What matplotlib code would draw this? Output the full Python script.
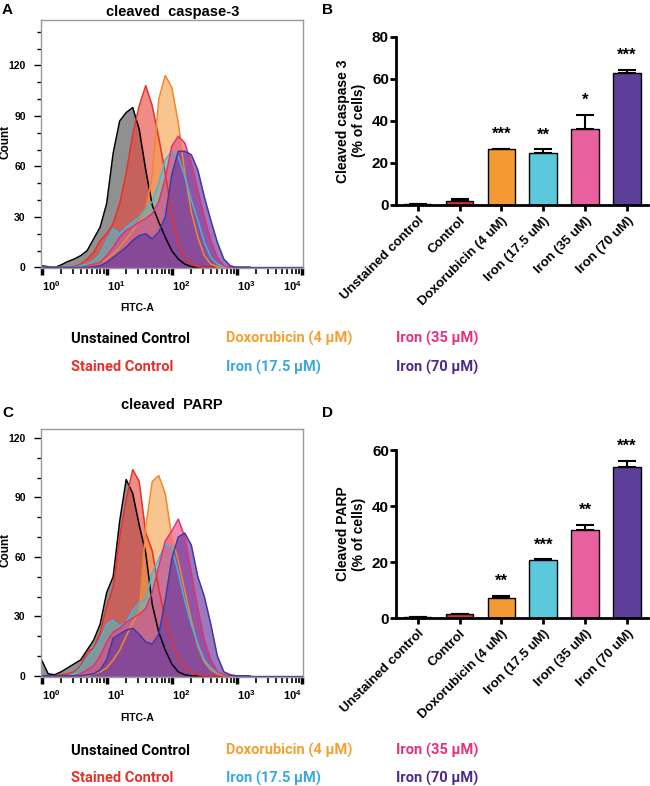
import numpy as np
import matplotlib
matplotlib.use('Agg')
import matplotlib.pyplot as plt
from matplotlib.ticker import MultipleLocator, FixedLocator, LogLocator, NullFormatter

plt.rcParams['font.family'] = ['Liberation Sans', 'DejaVu Sans']
plt.rcParams['mathtext.fontset'] = 'custom'
plt.rcParams['mathtext.bf'] = 'Liberation Sans:bold'
plt.rcParams['mathtext.rm'] = 'Liberation Sans:bold'

# log10(FITC-A) positions of the histogram readings
decades = [0.0, 0.1, 0.2, 0.3, 0.4, 0.5, 0.6, 0.7, 0.8, 0.9, 1.0, 1.1, 1.2, 1.3, 1.4, 1.5,
           1.6, 1.7, 1.8, 1.9, 2.0, 2.1, 2.2, 2.3, 2.4, 2.5, 2.6, 2.7, 2.8, 2.9, 3.0, 3.1, 3.2]

# panel A : cleaved caspase-3 histograms (counts)
casp_unstained = [1, 0.5, 0, 1.5, 3.5, 5, 7, 10, 17, 24, 38, 68, 87, 92, 95, 82,
                  58, 37, 27, 18, 10, 5, 2, 0.5, 0, 0, 0, 0, 0, 0, 0, 0, 0]
casp_stained = [0, 0, 0, 0, 0, 0.5, 2, 5, 9, 16, 20, 26, 38, 56, 79, 96,
                108, 96, 77, 56, 32, 14, 6, 2, 0.5, 0, 0, 0, 0, 0, 0, 0, 0]
casp_doxo = [0, 0, 0, 0, 0, 0, 0, 1, 2, 3, 5, 8, 12, 17, 22, 28,
             34, 55, 100, 114, 107, 86, 56, 33, 18, 7, 2, 0.5, 0, 0, 0, 0, 0]
casp_fe175 = [0, 0, 0, 0, 0, 0, 1, 2, 4, 8, 16, 23, 20, 24, 27, 30,
              35, 39, 50, 64, 69, 66, 54, 40, 28, 15, 6, 2, 0.5, 0, 0, 0, 0]
casp_fe35 = [0, 0, 0, 0, 0, 0, 0, 1, 2, 3, 7, 12, 18, 22, 24, 27,
             29, 32, 39, 53, 72, 78, 74, 62, 46, 30, 16, 6, 1, 0, 0, 0, 0]
casp_fe70 = [0, 0, 0, 0, 0, 0, 0, 0, 0.5, 1, 3, 6, 9, 12, 16, 19,
             20, 17, 21, 30, 55, 69, 69, 67, 58, 42, 28, 15, 5, 1, 0, 0, 0]

# panel C : cleaved PARP histograms (counts)
parp_unstained = [8, 1, 0.5, 2, 4, 6, 8, 13, 18, 26, 42, 50, 78, 99, 92, 76,
                  62, 36, 22, 13, 6, 2, 0.5, 0, 0, 0, 0, 0, 0, 0, 0, 0, 0]
parp_stained = [0, 0, 0, 0.5, 1, 2, 5, 12, 14, 22, 35, 45, 70, 89, 104, 98,
                72, 63, 44, 28, 18, 9, 4, 2, 0.5, 0, 0, 0, 0, 0, 0, 0, 0]
parp_doxo = [0, 0, 0, 0, 0, 0, 0, 0, 1, 2, 4, 8, 13, 20, 27, 32,
             75, 98, 101, 92, 70, 58, 43, 28, 15, 7, 3, 1, 0, 0, 0, 0, 0]
parp_fe175 = [0, 0, 0, 0, 0, 1, 4, 9, 13, 18, 26, 28, 25, 27, 33, 37,
              38, 52, 59, 66, 65, 52, 38, 26, 16, 8, 4, 1.5, 0.5, 0, 0, 0, 0]
parp_fe35 = [0, 0, 0, 0, 0, 0, 1, 3, 5, 10, 17, 22, 24, 27, 29, 31,
             34, 42, 55, 68, 73, 79, 70, 52, 34, 18, 8, 2, 0.5, 0, 0, 0, 0]
parp_fe70 = [0, 0, 0, 0, 0, 0, 0, 0.5, 1, 3, 8, 19, 21, 23, 24, 21,
             17, 16, 21, 38, 59, 70, 72, 66, 50, 40, 26, 10, 2, 0.5, 0, 0, 0]

# bar charts
groups = ['Unstained control', 'Control', 'Doxorubicin (4 uM)',
          'Iron (17.5 uM)', 'Iron (35 uM)', 'Iron (70 uM)']
casp_pct = [0.3, 1.7, 26.5, 24.6, 36.0, 62.9]
casp_err = [0.1, 1.0, 0.2, 1.9, 6.8, 1.3]
casp_sig = ['', '', '***', '**', '*', '***']
parp_pct = [0.3, 1.3, 7.3, 20.6, 31.4, 54.0]
parp_err = [0.1, 0.25, 0.6, 0.4, 1.8, 2.1]
parp_sig = ['', '', '**', '***', '**', '***']

legend_names = ['Unstained Control', 'Stained Control', 'Doxorubicin (4 μM)',
                'Iron (17.5 μM)', 'Iron (35 μM)', 'Iron (70 μM)']

# styles
hist_fill = ['#8a8a8a', '#e8453c', '#f5a04a', '#4ec4c8', '#e6428a', '#6a3a9e']
hist_alpha = [0.95, 0.62, 0.62, 0.55, 0.62, 0.68]
hist_edge = ['#000000', '#e8302a', '#f08a2a', '#3fb8e0', '#e0307a', '#3b3aa5']
bar_colors = ['#222222', '#d9342b', '#f39a35', '#5bc8dc', '#e9609e', '#5b3f98']
legend_colors = ['#000000', '#e8302a', '#f5a030', '#3aa8e0', '#e8307f', '#4b2a8a']

fig = plt.figure(figsize=(6.5, 7.86), dpi=100)


def draw_hist(ax, series, ytop):
    x = 10 ** np.array(decades)
    for s, fc, a, ec in zip(series, hist_fill, hist_alpha, hist_edge):
        ax.fill_between(x, s, 0, color=fc, alpha=a, lw=0)
        ax.plot(x, s, color=ec, lw=1.1)
    ax.axhline(0, color='#4a3aa0', lw=1.0, zorder=0)
    ax.set_xscale('log')
    ax.set_xlim(10 ** -0.01, 10 ** 4.015)
    ax.set_ylim(-0.6, ytop)
    ax.xaxis.set_major_locator(FixedLocator([1, 10, 100, 1000, 10000]))
    ax.xaxis.set_minor_locator(LogLocator(base=10, subs=np.arange(2, 10)))
    ax.xaxis.set_minor_formatter(NullFormatter())
    ax.set_xticklabels([r'$\mathbf{10^{%d}}$' % k for k in range(5)])
    labels = ax.get_xticklabels()
    for lab in labels:
        lab.set_ha('left')
    labels[-1].set_ha('right')
    ax.yaxis.set_major_locator(MultipleLocator(30))
    ax.yaxis.set_minor_locator(MultipleLocator(10))
    ax.tick_params(axis='x', which='major', length=5, width=2.5, labelsize=8, pad=3)
    ax.tick_params(axis='x', which='minor', length=4, width=1.2)
    ax.tick_params(axis='y', which='major', length=5, width=1, labelsize=7.5, pad=6)
    ax.tick_params(axis='y', which='minor', length=3, width=1)
    for lab in ax.get_yticklabels():
        lab.set_fontweight('bold')
    for sp in ax.spines.values():
        sp.set_color('#9a9a9a')
        sp.set_linewidth(1.0)


def draw_bars(ax, vals, errs, sig, ytop, ylabel):
    idx = np.arange(len(groups))
    ax.bar(idx, vals, width=0.66, color=bar_colors, edgecolor='black', lw=1.0, zorder=2)
    ax.errorbar(idx, vals, yerr=[np.zeros(len(vals)), errs], fmt='none', ecolor='black',
                elinewidth=1.5, capsize=6.5, capthick=1.5, zorder=1)
    for i in idx:
        if sig[i]:
            ax.annotate(sig[i], (i, vals[i] + errs[i]), xytext=(0, 5), textcoords='offset points',
                        ha='center', va='bottom', fontsize=12, fontweight='bold',
                        annotation_clip=False)
    ax.set_xlim(-0.52, 5.5)
    ax.set_ylim(0, ytop)
    ax.yaxis.set_major_locator(MultipleLocator(20))
    ax.set_xticks(idx)
    ax.set_xticklabels(groups, rotation=45, ha='right', rotation_mode='anchor',
                       fontsize=9.5, fontweight='bold')
    ax.tick_params(axis='x', length=4, width=2, pad=3)
    ax.tick_params(axis='y', length=4, width=2, labelsize=11, pad=1)
    for lab in ax.get_yticklabels():
        lab.set_fontweight('bold')
    ax.spines['top'].set_visible(False)
    ax.spines['right'].set_visible(False)
    ax.spines['left'].set_linewidth(2)
    ax.spines['bottom'].set_linewidth(2)
    ax.set_ylabel(ylabel, fontsize=10, fontweight='bold', labelpad=4)


ax_a = fig.add_axes([0.063, 0.6584, 0.403, 0.3162])
draw_hist(ax_a, [casp_unstained, casp_stained, casp_doxo, casp_fe175, casp_fe35, casp_fe70], 147)
ax_c = fig.add_axes([0.063, 0.1387, 0.403, 0.3155])
draw_hist(ax_c, [parp_unstained, parp_stained, parp_doxo, parp_fe175, parp_fe35, parp_fe70], 124.5)

ax_b = fig.add_axes([0.609, 0.7392, 0.388, 0.2141])
draw_bars(ax_b, casp_pct, casp_err, casp_sig, 80, 'Cleaved caspase 3\n(% of cells)')
ax_d = fig.add_axes([0.609, 0.2137, 0.388, 0.2137])
draw_bars(ax_d, parp_pct, parp_err, parp_sig, 60, 'Cleaved PARP\n(% of cells)')

# panel letters, titles, axis labels
for letter, x, y in [('A', 0.003, 0.987), ('B', 0.495, 0.987), ('C', 0.003, 0.475), ('D', 0.495, 0.475)]:
    fig.text(x, y, letter, fontsize=11, fontweight='bold', ha='left', va='center')
fig.text(0.265, 0.985, 'cleaved  caspase-3', fontsize=10.5, fontweight='bold', ha='center', va='center')
fig.text(0.265, 0.485, 'cleaved  PARP', fontsize=10.5, fontweight='bold', ha='center', va='center')
for y in (0.819, 0.30):
    fig.text(0.009, y, 'Count', fontsize=8.5, fontweight='bold', rotation=90, ha='center', va='center')
for y in (0.608, 0.087):
    fig.text(0.211, y, 'FITC-A', fontsize=7.5, fontweight='bold', ha='center', va='center')

# colour-coded legends under the histograms
leg_x = [0.109, 0.348, 0.609]
for row1, row2 in [(0.569, 0.533), (0.045, 0.010)]:
    order = [(0, leg_x[0], row1), (1, leg_x[0], row2), (2, leg_x[1], row1),
             (3, leg_x[1], row2), (4, leg_x[2], row1), (5, leg_x[2], row2)]
    for k, x, y in order:
        fig.text(x, y, legend_names[k], color=legend_colors[k], fontsize=10.5, fontweight='bold',
                 family=['Roboto', 'Liberation Sans', 'DejaVu Sans'],
                 ha='left', va='center')

fig.savefig('out.png', dpi=100)
